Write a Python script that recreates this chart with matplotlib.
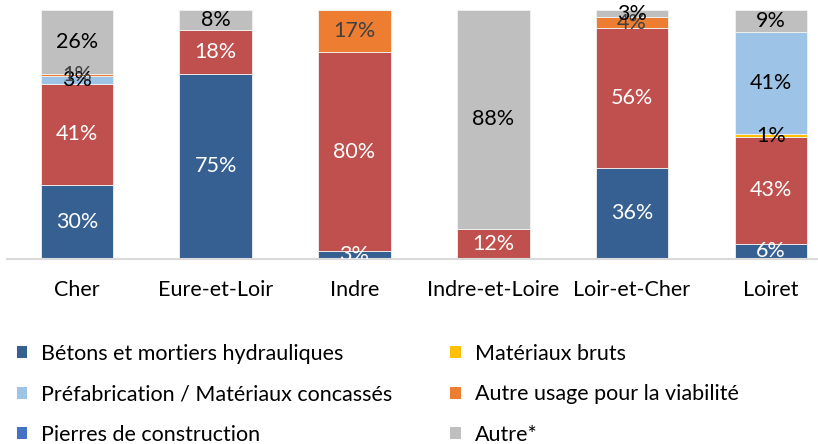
import matplotlib
matplotlib.use("Agg")
import matplotlib.pyplot as plt
from matplotlib.patches import Patch
import numpy as np

plt.rcParams['font.family'] = ['Lato', 'DejaVu Sans']

categories = ["Cher", "Eure-et-Loir", "Indre", "Indre-et-Loire", "Loir-et-Cher", "Loiret"]

betons = [30, 75, 3, 0, 36, 6]
rouge = [41, 18, 80, 12, 56, 43]          # series whose legend entry is cut off in the reference
pierres = [0, 0, 0, 0, 0, 0]
materiaux_bruts = [0, 0, 0, 0, 0, 1]
prefabrication = [3, 0, 0, 0, 0, 41]
autre_viabilite = [1, 0, 17, 0, 4, 0]
autre = [26, 8, 0, 88, 3, 9]

series = [
    ("Bétons et mortiers hydrauliques", betons, "#376092", "white"),
    (None, rouge, "#c0504d", "white"),
    ("Pierres de construction", pierres, "#4472c4", "white"),
    ("Matériaux bruts", materiaux_bruts, "#ffc000", "black"),
    ("Préfabrication / Matériaux concassés", prefabrication, "#9dc3e6", "black"),
    ("Autre usage pour la viabilité", autre_viabilite, "#ed7d31", "#404040"),
    ("Autre*", autre, "#bfbfbf", "black"),
]

FS = 15.5
W, H = 818, 444
fig = plt.figure(figsize=(W / 100, H / 100), dpi=100)
left_px, right_px = 7, 818
bottom_px, top_px = 258.7, 0
ax = fig.add_axes([left_px / W, 1 - bottom_px / H, (right_px - left_px) / W, (bottom_px - top_px) / H])

x = np.arange(len(categories))
totals = np.sum([np.array(s[1], dtype=float) for s in series], axis=0)
bottom = np.zeros(len(categories))
for name, vals, color, tcolor in series:
    v = np.array(vals, dtype=float)
    pct = v / totals * 100
    ax.bar(x, pct, width=0.523, bottom=bottom, color=color, edgecolor="#f2f2f2", linewidth=0.6)
    for i in range(len(categories)):
        if vals[i] > 0:
            ax.text(x[i], bottom[i] + pct[i] / 2, f"{vals[i]}%", ha="center", va="center",
                    fontsize=FS, color=tcolor, clip_on=True)
    bottom += pct

ax.set_xlim(-0.504, 5.34)
ax.set_ylim(0, 104)
for s in ["top", "right", "left"]:
    ax.spines[s].set_visible(False)
ax.spines["bottom"].set_color("#d9d9d9")
ax.spines["bottom"].set_linewidth(1.5)
ax.set_yticks([])
ax.set_xticks(x)
ax.set_xticklabels(categories, fontsize=FS, color="black")
ax.tick_params(axis="x", length=0, pad=15)

legend_order = [0, 4, 2, 3, 5, 6]
handles = [Patch(facecolor=series[k][2], edgecolor="none", label=series[k][0]) for k in legend_order]
fig.legend(handles=handles, ncol=2, loc="upper left", bbox_to_anchor=(17 / W, 1 - 344 / H),
           frameon=False, fontsize=FS, handlelength=0.47, handleheight=0.47, handletextpad=0.65,
           labelspacing=0.95, columnspacing=2.7, borderpad=0.0, borderaxespad=0.0)

fig.savefig("out.png", dpi=100)
